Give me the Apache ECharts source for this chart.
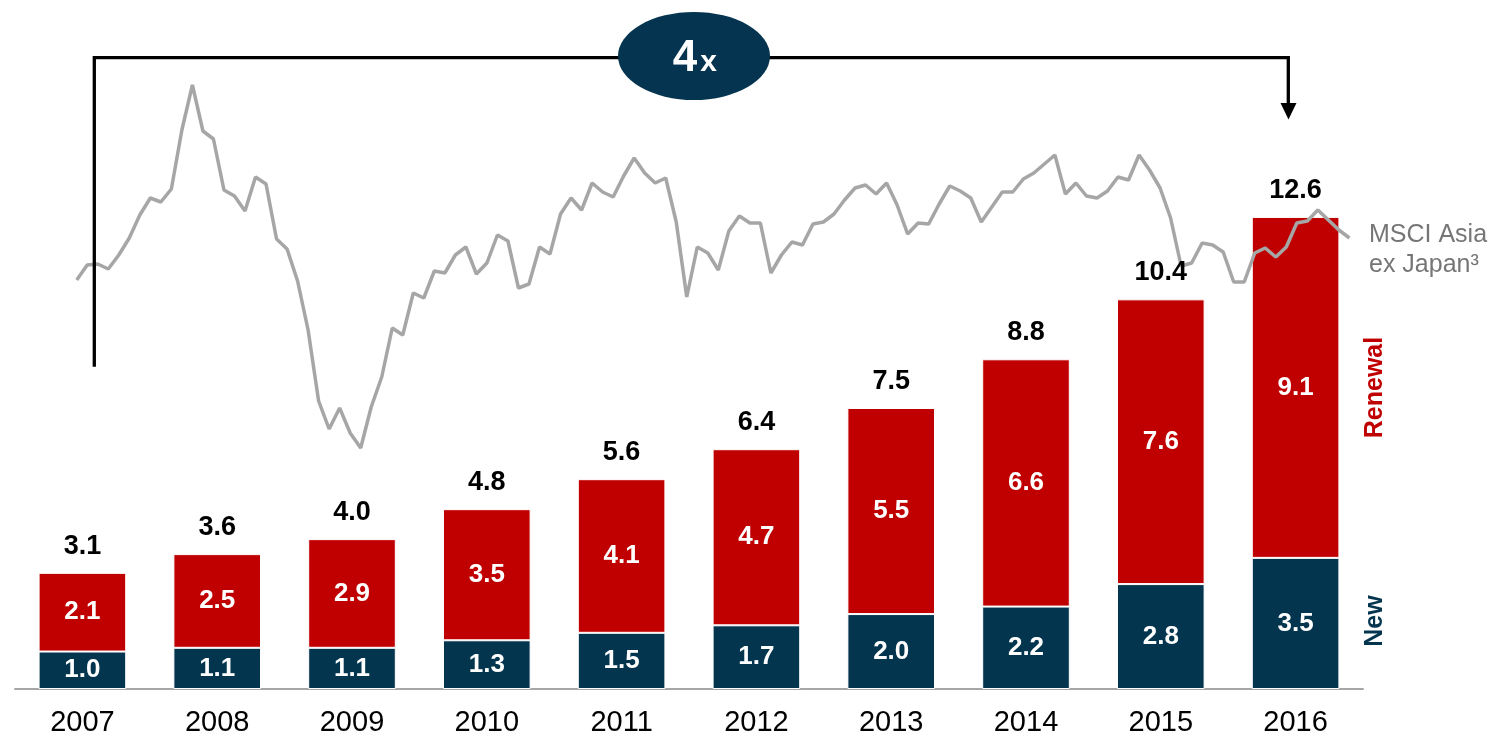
<!DOCTYPE html>
<html>
<head>
<meta charset="utf-8">
<title>New and renewal</title>
<script src="https://cdn.jsdelivr.net/npm/echarts@6/dist/echarts.min.js"></script>
<style>
	html, body { margin: 0; padding: 0; background: #fff; }
	#chart { width: 1496px; height: 737px; }
</style>
</head>
<body>
<div id="chart"></div>
<script>
const years = ['2007', '2008', '2009', '2010', '2011', '2012', '2013', '2014', '2015', '2016']
const newValues = [1.0, 1.1, 1.1, 1.3, 1.5, 1.7, 2.0, 2.2, 2.8, 3.5]
const renewalValues = [2.1, 2.5, 2.9, 3.5, 4.1, 4.7, 5.5, 6.6, 7.6, 9.1]
const totals = [3.1, 3.6, 4.0, 4.8, 5.6, 6.4, 7.5, 8.8, 10.4, 12.6]

// monthly index level (arbitrary units)
const msci = [
	420, 435, 436, 431, 445, 462, 485, 502, 498, 511,
	570, 615, 569, 561, 510, 504, 489, 523, 516, 461,
	451, 419, 370, 299, 271, 292, 267, 252, 293, 323,
	372, 365, 407, 402, 429, 427, 445, 453, 426, 437,
	465, 459, 412, 416, 453, 446, 486, 502, 490, 517,
	508, 503, 524, 542, 527, 517, 522, 478, 403, 453,
	447, 430, 469, 484, 477, 477, 427, 445, 458, 455,
	476, 478, 486, 500, 512, 515, 506, 517, 495, 466,
	477, 476, 496, 514, 509, 502, 478, 493, 508, 508,
	521, 527, 536, 545, 506, 517, 504, 502, 509, 523,
	520, 545, 530, 512, 482, 434, 437, 457, 455, 448,
	418, 418, 447, 452, 443, 453, 477, 479, 490, 480,
	470, 462,
]

const FONT = '"Liberation Sans", Arial, sans-serif'
const NAVY = '#03354f'
const RED = '#c00000'

chart = () => {
	var myChart = echarts.init(document.getElementById('chart'))

	const option = {
		animation: false,
		textStyle: { fontFamily: FONT },
		grid: [
			{ left: 15, width: 1348, top: 14.6, bottom: 46.3 },
			{ left: 76.7, right: 146.6, top: 0, height: 700 },
		],
		xAxis: [
			{
				type: 'category',
				gridIndex: 0,
				data: years,
				axisLine: { show: true, lineStyle: { color: '#a6a6a6', width: 2 } },
				axisTick: { show: false },
				axisLabel: { color: '#000', fontSize: 29, margin: 19, fontFamily: FONT },
			},
			{
				type: 'value',
				gridIndex: 1,
				min: 0,
				max: msci.length - 1,
				show: false,
			},
		],
		yAxis: [
			{ type: 'value', gridIndex: 0, min: 0, max: 18, show: false },
			{ type: 'value', gridIndex: 1, min: 0, max: 700, show: false },
		],
		series: [
			{
				name: 'New',
				type: 'bar',
				stack: 'total',
				barWidth: '65%',
				data: newValues,
				itemStyle: { color: NAVY, borderColor: '#fff', borderWidth: 1 },
				label: {
					show: true,
					position: 'inside',
					color: '#fff',
					fontSize: 26,
					fontWeight: 'bold',
					formatter: (p) => p.value.toFixed(1),
				},
			},
			{
				name: 'Renewal',
				type: 'bar',
				stack: 'total',
				data: renewalValues,
				itemStyle: { color: RED, borderColor: '#fff', borderWidth: 1 },
				label: {
					show: true,
					position: 'inside',
					color: '#fff',
					fontSize: 26,
					fontWeight: 'bold',
					formatter: (p) => p.value.toFixed(1),
				},
			},
			{
				name: 'Total',
				type: 'scatter',
				symbolSize: 0,
				data: totals,
				itemStyle: { opacity: 1 },
				label: {
					show: true,
					position: 'top',
					distance: 13,
					color: '#000',
					fontSize: 27,
					fontWeight: 'bold',
					formatter: (p) => p.value.toFixed(1),
				},
				z: 5,
			},
			{
				name: 'MSCI Asia ex Japan',
				type: 'line',
				xAxisIndex: 1,
				yAxisIndex: 1,
				data: msci.map((v, i) => [i, v]),
				showSymbol: false,
				lineStyle: { color: '#a6a6a6', width: 3.5 },
				silent: true,
				z: 4,
			},
		],
		graphic: [
			{
				type: 'polyline',
				shape: { points: [[94.3, 366.7], [94.3, 57.7], [1288.3, 57.7], [1288.3, 104]] },
				style: { stroke: '#000', lineWidth: 3.3, fill: null },
				z: 10,
			},
			{
				type: 'polygon',
				shape: { points: [[1280.5, 103], [1296.5, 103], [1288.5, 119.5]] },
				style: { fill: '#000' },
				z: 10,
			},
			{
				type: 'circle',
				x: 694,
				y: 56,
				scaleX: 76 / 44,
				shape: { cx: 0, cy: 0, r: 44 },
				style: { fill: '#04344f' },
				z: 11,
			},
			{
				type: 'text',
				x: 685,
				y: 59,
				style: { text: '4', fill: '#fff', font: 'bold 44px ' + FONT, align: 'center', verticalAlign: 'middle' },
				z: 12,
			},
			{
				type: 'text',
				x: 708.5,
				y: 63,
				style: { text: 'x', fill: '#fff', font: 'bold 30px ' + FONT, align: 'center', verticalAlign: 'middle' },
				z: 12,
			},
			{
				type: 'text',
				x: 1369,
				y: 235,
				style: { text: 'MSCI Asia', fill: '#767676', font: '25px ' + FONT, align: 'left', verticalAlign: 'middle' },
			},
			{
				type: 'text',
				x: 1369,
				y: 265,
				style: { text: 'ex Japan³', fill: '#767676', font: '25px ' + FONT, align: 'left', verticalAlign: 'middle' },
			},
			{
				type: 'text',
				x: 1375,
				y: 387.5,
				rotation: Math.PI / 2,
				style: { text: 'Renewal', fill: RED, font: 'bold 25px ' + FONT, align: 'center', verticalAlign: 'middle' },
			},
			{
				type: 'text',
				x: 1375,
				y: 621,
				rotation: Math.PI / 2,
				style: { text: 'New', fill: NAVY, font: 'bold 25px ' + FONT, align: 'center', verticalAlign: 'middle' },
			},
		],
	}

	myChart.setOption(option)
}

chart()
</script>
</body>
</html>
